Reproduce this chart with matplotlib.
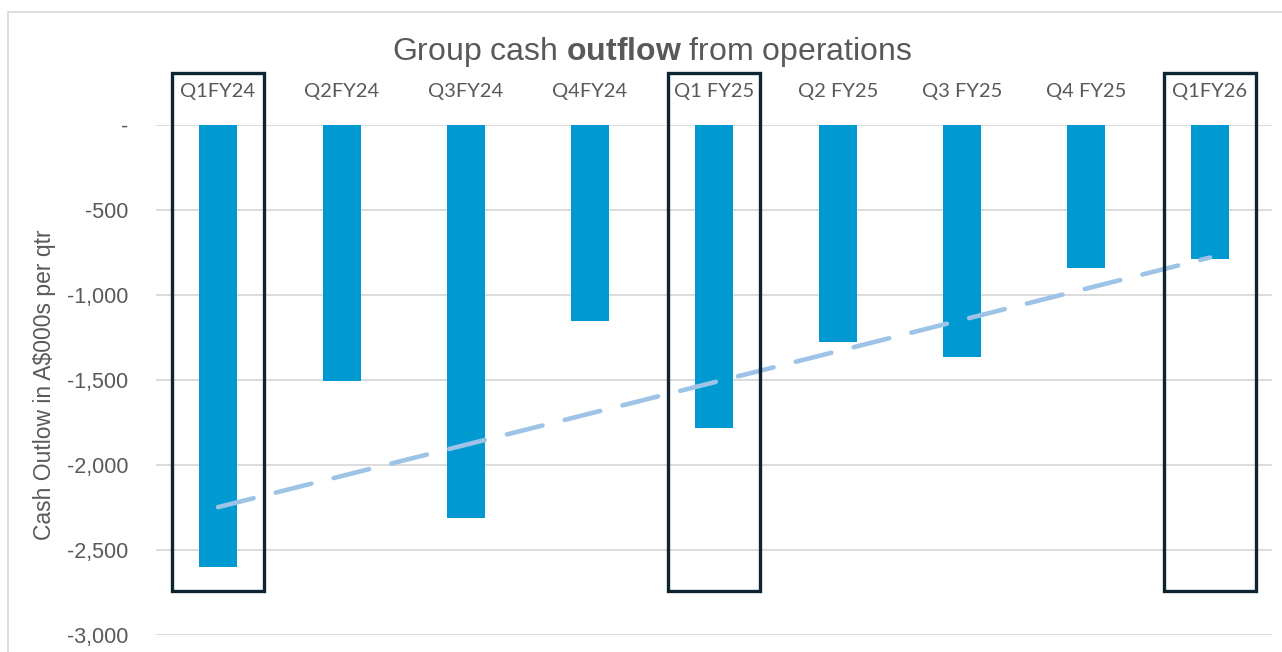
import matplotlib.pyplot as plt
from matplotlib.patches import Rectangle
import numpy as np

quarters = ['Q1FY24', 'Q2FY24', 'Q3FY24', 'Q4FY24', 'Q1 FY25', 'Q2 FY25', 'Q3 FY25', 'Q4 FY25', 'Q1FY26']
outflow = [-2600, -1506, -2312, -1153, -1782, -1276, -1365, -841, -788]
boxed = ['Q1FY24', 'Q1 FY25', 'Q1FY26']
yticks = [0, -500, -1000, -1500, -2000, -2500, -3000]

grey = '#595959'
plt.rcParams['font.family'] = ['Liberation Sans', 'DejaVu Sans']
plt.rcParams['mathtext.fontset'] = 'custom'
plt.rcParams['mathtext.rm'] = 'Liberation Sans'
plt.rcParams['mathtext.bf'] = 'Liberation Sans:bold'

fig = plt.figure(figsize=(12.82, 6.52), dpi=100)
ax = fig.add_axes([156/1282, 1 - 635/652, 1116/1282, 510/652])

# chart area frame (cropped at right/bottom)
fig.patches.append(Rectangle((8/1282, -0.1), 1.2, 1 - 12/652 + 0.1, transform=fig.transFigure,
                             fill=False, edgecolor='#D9D9D9', lw=1.2))

x = np.arange(len(quarters))
ax.bar(x, outflow, width=0.31, color='#0099D1', zorder=3)

# linear trendline
k, b = np.polyfit(x, outflow, 1)
ax.plot(x, k * x + b, color='#9DC3E6', lw=3.3, dashes=(8, 5), dash_capstyle='round', zorder=4)

for i, q in enumerate(quarters):
    if q in boxed:
        ax.add_patch(Rectangle((i - 0.367, -2741), 0.734, 3047, fill=False,
                               edgecolor='#0D2433', lw=2.4, clip_on=False, zorder=5))

ax.set_xlim(-0.5, len(quarters) - 0.5)
ax.set_ylim(-3000, 0)
ax.set_yticks(yticks)
ax.set_yticklabels(['-' if v == 0 else f'{v:,}' for v in yticks])
ax.xaxis.tick_top()
ax.set_xticks(x)
ax.set_xticklabels(quarters, family=['Lato', 'DejaVu Sans'])
ax.tick_params(axis='x', length=0, pad=18, labelsize=14.5, labelcolor=grey)
ax.tick_params(axis='y', length=0, pad=20, labelsize=15.5, labelcolor=grey)
ax.grid(axis='y', color='#D9D9D9', lw=1.3, zorder=0)
for s in ax.spines.values():
    s.set_visible(False)

ax.set_ylabel('Cash Outlow in A$000s per qtr', fontsize=16.5, color=grey)
ax.yaxis.set_label_coords(-0.0895, 0.49)

fig.text(652/1282, 1 - 52/652, 'Group cash $\\mathbf{outflow}$ from operations', ha='center', va='center',
         fontsize=23, color=grey)

fig.savefig('out.png', dpi=100)
